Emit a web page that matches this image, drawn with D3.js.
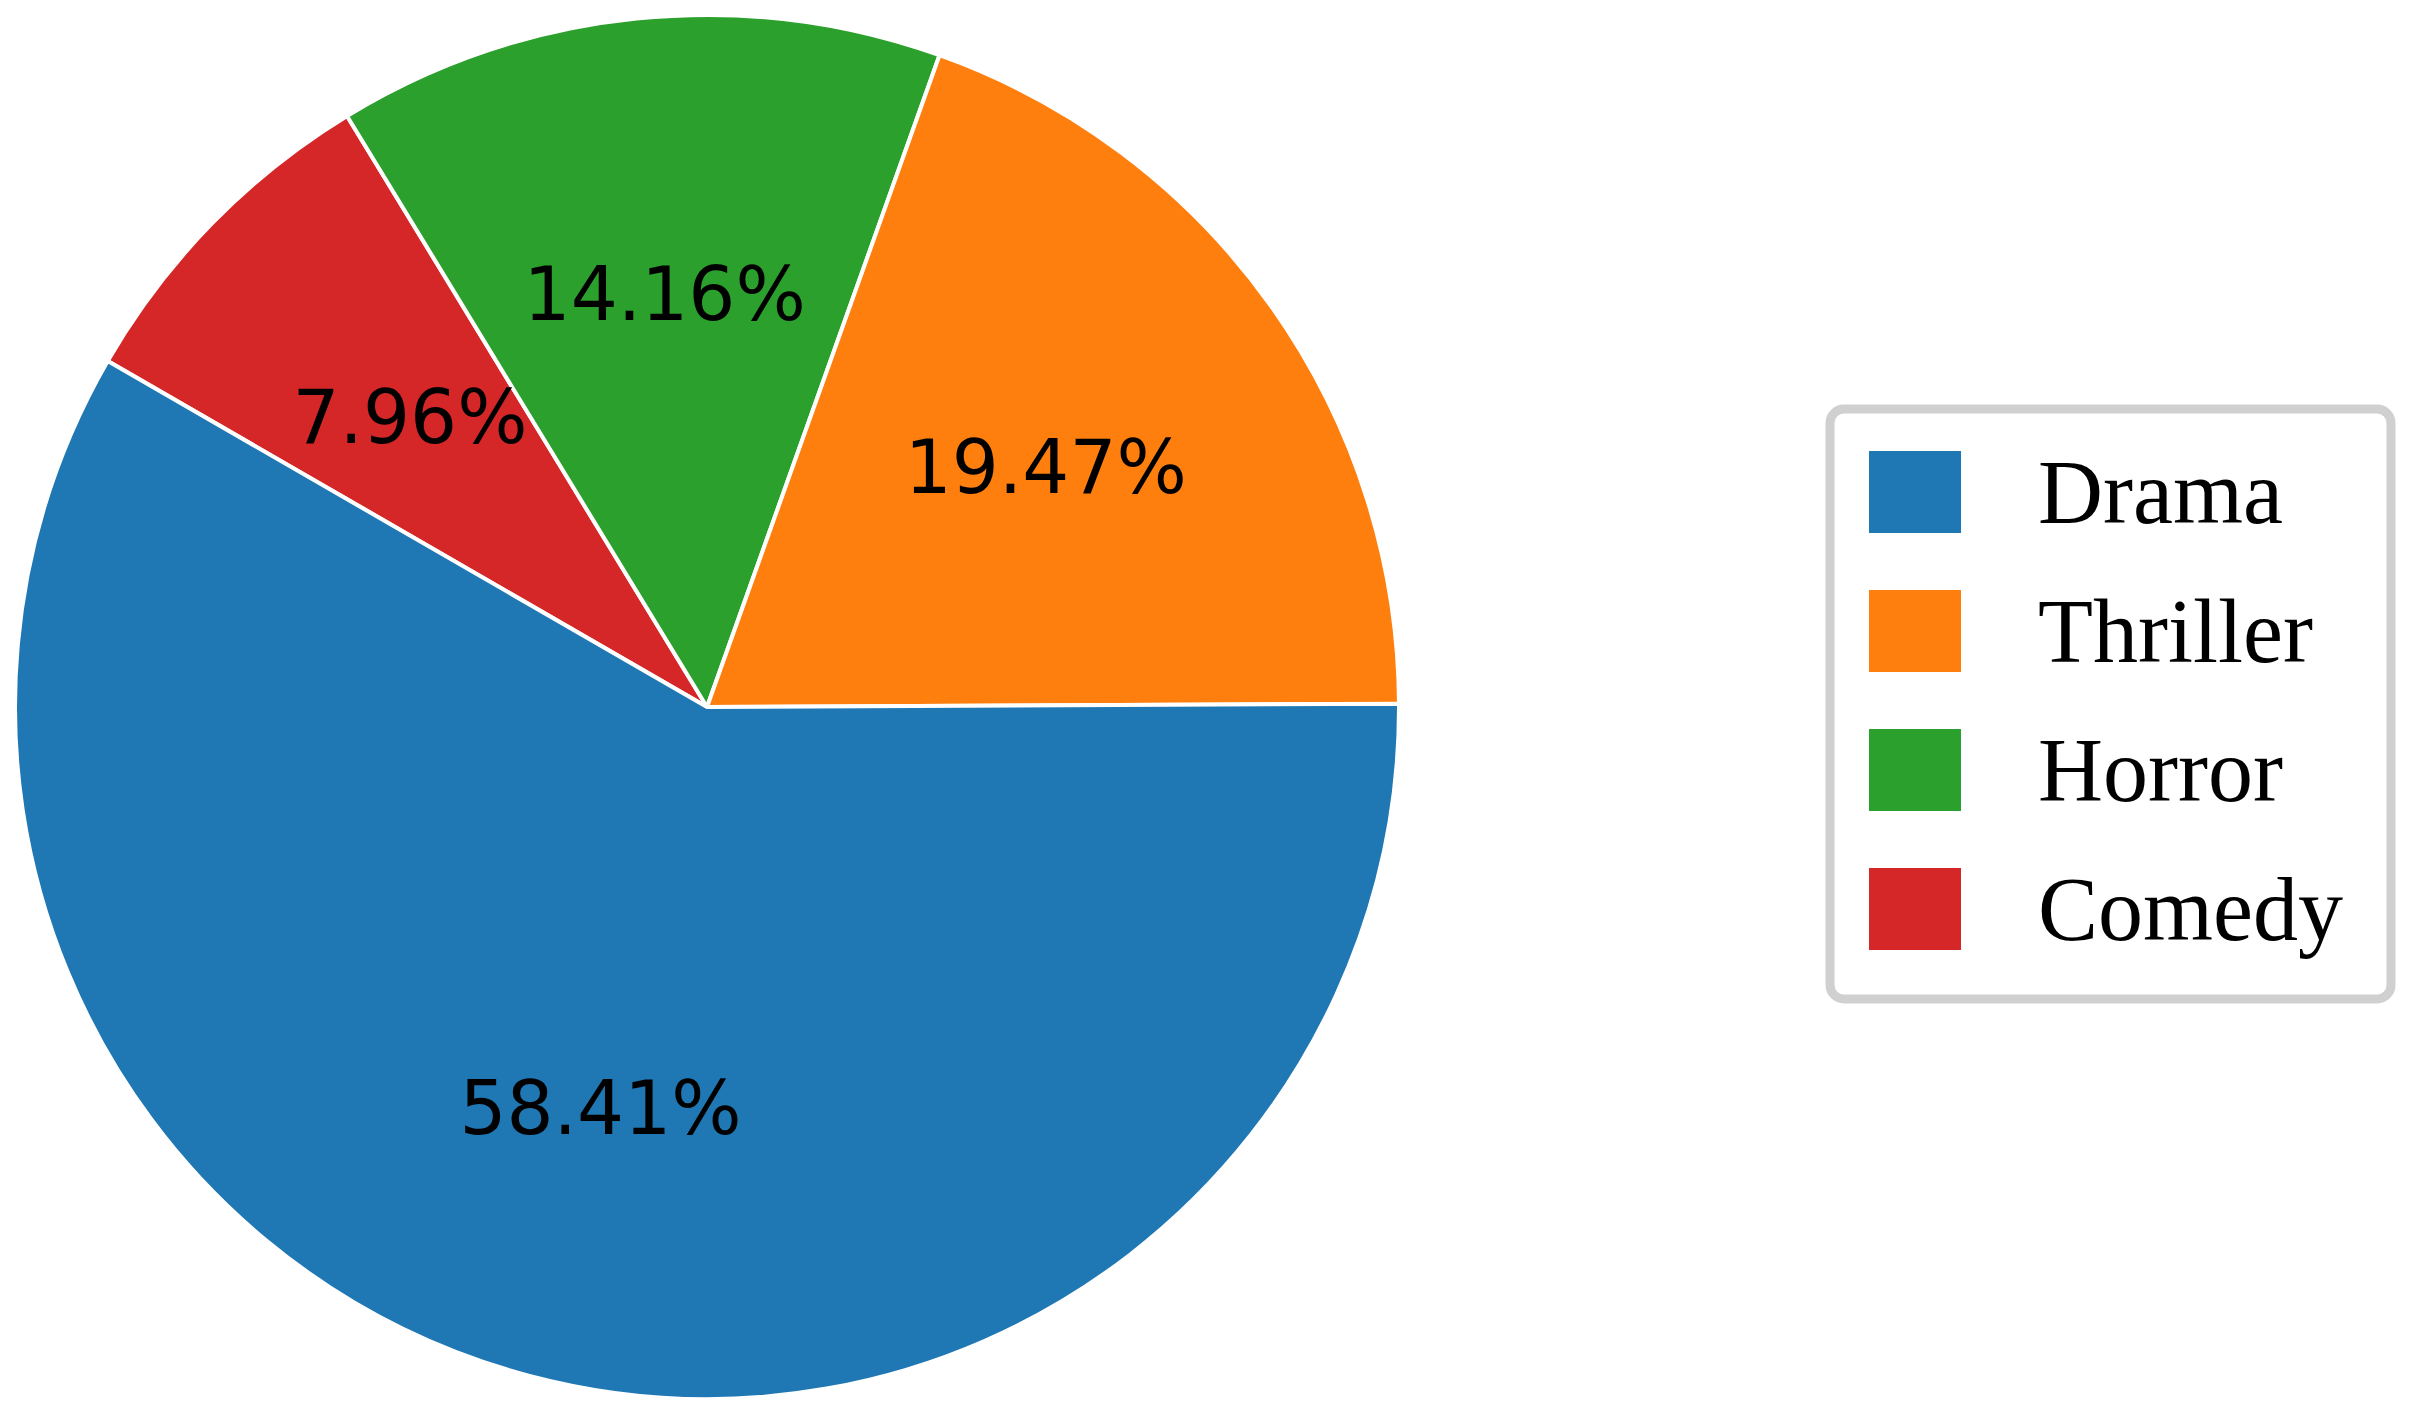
<!DOCTYPE html><html><head><meta charset="utf-8">
<script src="https://cdn.jsdelivr.net/npm/d3@7"></script>
<style>body{margin:0;background:#fff}</style></head><body>
<script>
const categories=["Drama","Thriller","Horror","Comedy"];
const values=[58.41,19.47,14.16,7.96];
const colors=["#1f77b4","#ff7f0e","#2ca02c","#d62728"];
const W=2409,H=1423,cx=707,cy=707,R=692;
const svg=d3.select("body").append("svg").attr("width",W).attr("height",H);
const data=categories.map((c,i)=>({c,v:values[i],col:colors[i]})).reverse();
const pie=d3.pie().value(d=>d.v).sort(null).startAngle(-Math.PI/3).endAngle(-Math.PI/3+2*Math.PI);
const arcs=pie(data);
const g=svg.append("g").attr("transform",`translate(${cx},${cy})`);
const arc=d3.arc().innerRadius(0).outerRadius(R);
g.selectAll("path").data(arcs).join("path").attr("d",arc).attr("fill",d=>d.data.col).attr("stroke","#fff").attr("stroke-width",4);
const la=d3.arc().innerRadius(R*0.6).outerRadius(R*0.6);
g.selectAll("text").data(arcs).join("text").attr("transform",d=>`translate(${la.centroid(d)})`)
 .attr("text-anchor","middle").attr("dominant-baseline","central").attr("font-family","DejaVu Sans").attr("font-size",74)
 .text(d=>d.data.v.toFixed(2)+"%");
const lg=svg.append("g");
lg.append("rect").attr("x",1830).attr("y",409).attr("width",561).attr("height",590).attr("rx",14)
 .attr("fill","#fff").attr("stroke","#d0d0d0").attr("stroke-width",9);
const y=d3.scalePoint().domain(categories).range([492,909]);
categories.forEach((c,i)=>{
 lg.append("rect").attr("x",1869).attr("y",y(c)-41).attr("width",92).attr("height",82).attr("fill",colors[i]);
 lg.append("text").attr("x",2038).attr("y",y(c)).attr("dominant-baseline","central").attr("font-family","Liberation Serif").attr("font-size",90).text(c);
});
</script></body></html>
